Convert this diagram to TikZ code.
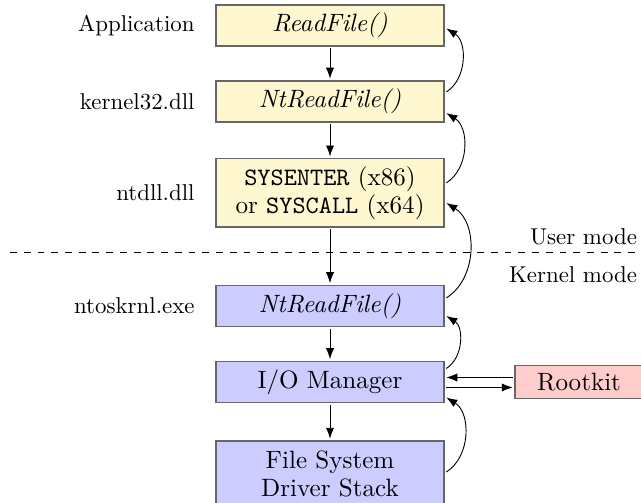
\documentclass[tikz,border=0pt]{standalone}
\usepackage{tikz}
\usetikzlibrary{arrows.meta,positioning}
\definecolor{UserFill}{HTML}{FFF7CF}
\definecolor{KernelFill}{HTML}{CCCCFF}
\definecolor{HookFill}{HTML}{FFCCCC}
\definecolor{FrameGray}{HTML}{666666}

\begin{document}
\begin{tikzpicture}[>=Latex,
  box/.style={draw=FrameGray,semithick,minimum width=3.5cm,minimum height=0.63cm,
              align=center,outer sep=1pt,font=\fontsize{10.95}{12.2}\selectfont},
  userbox/.style={box,fill=UserFill},
  kernelbox/.style={box,fill=KernelFill}]
  % page frame
  \clip (-5.066,-3.853) rectangle (4.774,3.868);

  % user mode stack
  \node[userbox] (app) at (0,3.477) {\textit{ReadFile()}};
  \node[userbox] (k32) at (0,2.310) {\textit{NtReadFile()}};
  \node[userbox,minimum height=1.01cm] (ntdll) at (0,0.906)
    {\texttt{SYSENTER} (x86)\\or \texttt{SYSCALL} (x64)};

  % kernel mode stack
  \node[kernelbox] (ntos) at (0,-0.829) {\textit{NtReadFile()}};
  \node[kernelbox] (iomgr) at (0,-1.996) {I/O Manager};
  \node[kernelbox,minimum height=1.01cm] (fsd) at (0,-3.408)
    {File System\\Driver Stack};
  \node[box,fill=HookFill,minimum width=1.965cm,minimum height=0.507cm,
        right=1.02cm of iomgr] (rootkit) {Rootkit};

  % module names
  \node[left=0.17cm of app] (lapp) {Application};
  \node[left=0.17cm of k32] (lk32) {kernel32.dll};
  \node[left=0.17cm of ntdll] (lntdll) {ntdll.dll};
  \node[left=0.17cm of ntos] (lntos) {ntoskrnl.exe};

  % user/kernel boundary
  \coordinate (sepL) at (-4.912,0);
  \coordinate (sepR) at (4.774,0);
  \draw[dashed] (sepL) -- (sepR);
  \node[anchor=base east,inner sep=0] (umode) at (4.72,0.11) {User mode};
  \node[anchor=base east,inner sep=0] (kmode) at (4.72,-0.476) {Kernel mode};

  % call path down
  \foreach \a/\b in {app/k32,k32/ntdll,ntdll/ntos,ntos/iomgr,iomgr/fsd}
    \draw[->] (\a) -- (\b);

  % results back up
  \foreach \lo/\hi/\s/\t in {k32/app/0.146/-0.046,ntdll/k32/0.153/-0.177,
                             ntos/ntdll/0.123/-0.153,iomgr/ntos/0.207/-0.153,
                             fsd/iomgr/0.03/-0.238}
    \draw[->] ([yshift=\s cm]\lo.east) to[bend right=58] ([yshift=\t cm]\hi.east);

  % hook
  \draw[->] ([yshift=0.069cm]rootkit.west) -- ([yshift=0.069cm]iomgr.east);
  \draw[->] ([yshift=-0.084cm]iomgr.east) -- ([yshift=-0.084cm]rootkit.west);
\end{tikzpicture}
\end{document}
